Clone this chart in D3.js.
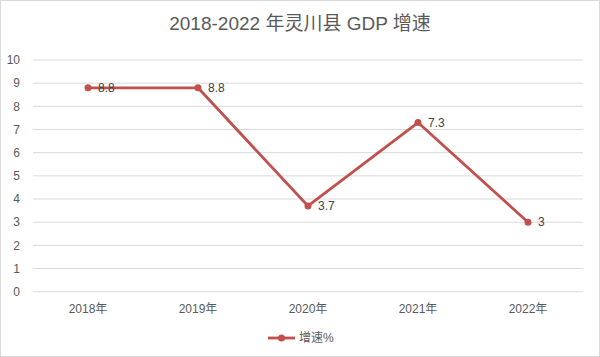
<!DOCTYPE html>
<html><head><meta charset="utf-8">
<script src="https://cdn.jsdelivr.net/npm/d3@7"></script>
<style>body{margin:0;background:#fff}svg{display:block}</style>
</head><body>
<svg id="c" width="600" height="357"></svg>
<script>
const categories = ["2018年","2019年","2020年","2021年","2022年"];
const values = [8.8, 8.8, 3.7, 7.3, 3];
const labels = ["8.8","8.8","3.7","7.3","3"];
const yTicks = [0,1,2,3,4,5,6,7,8,9,10];
const seriesName = "增速%";
const title = "2018-2022 年灵川县 GDP 增速";

const svg = d3.select("#c");
const font = "'Liberation Sans', 'Noto Sans CJK SC', sans-serif";
const txt = "#595959", color = "#c0504d";

svg.append("rect").attr("x",0.5).attr("y",0.5).attr("width",599).attr("height",356)
  .attr("fill","#fff").attr("stroke","#d9d9d9");

svg.append("text").attr("x",300).attr("y",30).attr("text-anchor","middle")
  .attr("font-family",font).attr("font-size",19).attr("fill",txt).text(title);

const x = d3.scaleBand().domain(categories).range([33,583]);
const y = d3.scaleLinear().domain([0,10]).range([291.7,60]);

const grid = svg.append("g");
yTicks.forEach(t=>{
  grid.append("line").attr("x1",33).attr("x2",583).attr("y1",y(t)).attr("y2",y(t))
    .attr("stroke","#d9d9d9").attr("stroke-width",1);
  grid.append("text").attr("x",20).attr("y",y(t)).attr("dy","0.35em").attr("text-anchor","end")
    .attr("font-family",font).attr("font-size",12).attr("fill",txt).text(t);
});

categories.forEach(c=>{
  svg.append("text").attr("x",x(c)+x.bandwidth()/2).attr("y",313).attr("text-anchor","middle")
    .attr("font-family",font).attr("font-size",12).attr("fill",txt).text(c);
});

const cx = (d,i)=>x(categories[i])+x.bandwidth()/2;
const line = d3.line().x(cx).y(d=>y(d));
svg.append("path").datum(values).attr("d",line).attr("fill","none")
  .attr("stroke",color).attr("stroke-width",2.8).attr("stroke-linejoin","round");
svg.selectAll(".pt").data(values).enter().append("circle")
  .attr("cx",cx).attr("cy",d=>y(d)).attr("r",3.5).attr("fill",color);
svg.selectAll(".lb").data(values).enter().append("text")
  .attr("x",(d,i)=>cx(d,i)+10).attr("y",d=>y(d)).attr("dy","0.35em")
  .attr("font-family",font).attr("font-size",12).attr("fill","#404040")
  .text((d,i)=>labels[i]);

const lg = svg.append("g");
lg.append("line").attr("x1",268).attr("x2",295).attr("y1",338).attr("y2",338)
  .attr("stroke",color).attr("stroke-width",2.8);
lg.append("circle").attr("cx",281.5).attr("cy",338).attr("r",3.5).attr("fill",color);
lg.append("text").attr("x",299).attr("y",338).attr("dy","0.35em")
  .attr("font-family",font).attr("font-size",12).attr("fill",txt).text(seriesName);
</script>
</body></html>
